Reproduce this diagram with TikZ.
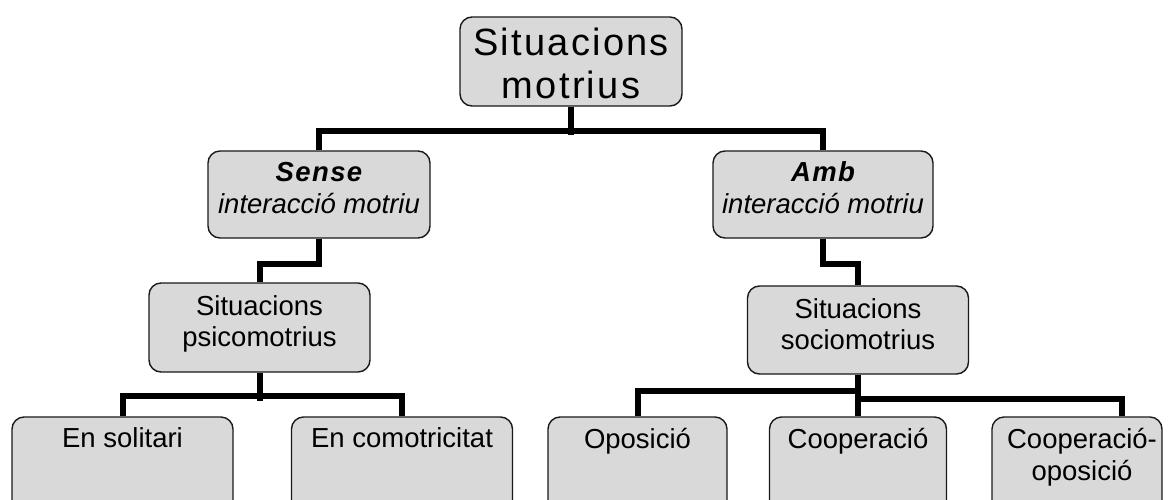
\documentclass[tikz,border=0pt]{standalone}
\usepackage{fontspec}
\setmainfont{Liberation Sans}
\newfontfamily\titlefont[LetterSpace=6]{Liberation Sans}
\newfontfamily\headfont[LetterSpace=5]{Liberation Sans}
\usetikzlibrary{calc}
\definecolor{boxfill}{RGB}{217,217,217}
\definecolor{boxline}{RGB}{25,25,25}

\begin{document}
\begin{tikzpicture}[x=1pt,y=-1pt,
  box/.style={draw=boxline, line width=1.4pt, fill=boxfill, rounded corners=12pt, inner sep=0pt},
  wire/.style={line width=6pt, line join=miter, black},
  lbl/.style={anchor=base, inner sep=0pt, font=\fontsize{27.5}{31}\selectfont},
  head/.style={anchor=base, inner sep=0pt, font=\headfont\fontsize{27.5}{31}\selectfont\bfseries\itshape},
  ttl/.style={anchor=base, inner sep=0pt, font=\titlefont\fontsize{38}{44}\selectfont},
]
\useasboundingbox (0,0) rectangle (1168,499);
\clip (0,0) rectangle (1168,499);

% boxes
\node[box, minimum width=222pt, minimum height=89pt] (sit)    at (571,61.5)  {};
\node[box, minimum width=222pt, minimum height=87pt] (sense)  at (319,194.5) {};
\node[box, minimum width=220pt, minimum height=87pt] (amb)    at (823,194.5) {};
\node[box, minimum width=221pt, minimum height=89pt] (psico)  at (259.5,327.5) {};
\node[box, minimum width=221pt, minimum height=88pt] (socio)  at (858,330) {};
\node[box, minimum width=221pt, minimum height=100pt] (solit) at (122.5,467) {};
\node[box, minimum width=221pt, minimum height=100pt] (comot) at (402,467) {};
\node[box, minimum width=179pt, minimum height=100pt] (opos)  at (637.5,467) {};
\node[box, minimum width=177pt, minimum height=100pt] (coop)  at (858,467) {};
\node[box, minimum width=170pt, minimum height=100pt] (coopo) at (1077,467) {};
\coordinate (coopoin) at ($(coopo.north)+(45,0)$);

% connectors
\draw[wire] (sit.south) -- ++(0,28.3);
\draw[wire] (sense.north) -- ++(0,-19) -| (amb.north);
\draw[wire] (sense.south) -- ++(0,25) -| (psico.north);
\draw[wire] (amb.south) -- ++(0,25) -| (socio.north);
\draw[wire] (psico.south) -- ++(0,28);
\draw[wire] (solit.north) -- ++(0,-20) -| (comot.north);
\draw[wire] (socio.south) -- (coop.north);
\draw[wire] (opos.north) -- ++(0,-25) -| (socio.south);
\draw[wire] (coopoin) -- ++(0,-17) -| (socio.south);

% labels
\node[ttl] (sitA) at (571,55) {Situacions};
\node[ttl] (sitB) at (571,98) {motrius};
\node[head] (senseA) at (319,181) {Sense};
\node[lbl] (senseB) at (319,213) {\textit{interacció motriu}};
\node[head] (ambA) at (823,181) {Amb};
\node[lbl] (ambB) at (823,213) {\textit{interacció motriu}};
\node[lbl] (psicoA) at (259.5,315) {Situacions};
\node[lbl] (psicoB) at (259.5,346) {psicomotrius};
\node[lbl] (socioA) at (858,318) {Situacions};
\node[lbl] (socioB) at (858,349) {sociomotrius};
\node[lbl] (solitA) at (122.5,447) {En solitari};
\node[lbl] (comotA) at (402,447) {En comotricitat};
\node[lbl] (oposA) at (637.5,448) {Oposició};
\node[lbl] (coopA) at (858,448) {Cooperació};
\node[lbl] (coopoA) at (1082,448) {Cooperació-};
\node[lbl] (coopoB) at (1082,480) {oposició};
\end{tikzpicture}
\end{document}
